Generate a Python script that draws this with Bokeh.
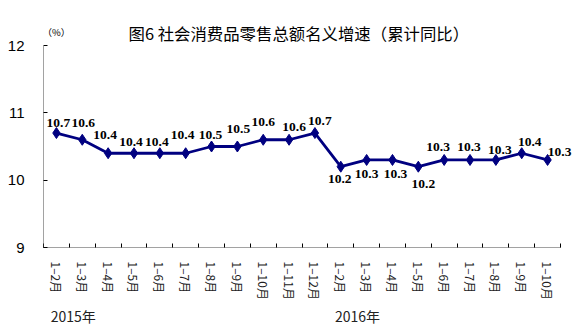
from bokeh.plotting import figure
from bokeh.models import FixedTicker, ColumnDataSource, LabelSet, Label, Range1d, LinearAxis
from bokeh.embed import file_html
from bokeh.resources import INLINE

periods = ["1–2月", "1–3月", "1–4月", "1–5月", "1–6月", "1–7月", "1–8月", "1–9月",
           "1–10月", "1–11月", "1–12月",
           "1–2月", "1–3月", "1–4月", "1–5月", "1–6月", "1–7月", "1–8月", "1–9月", "1–10月"]
values = [10.7, 10.6, 10.4, 10.4, 10.4, 10.4, 10.5, 10.5, 10.6, 10.6, 10.7,
          10.2, 10.3, 10.3, 10.2, 10.3, 10.3, 10.3, 10.4, 10.3]
years = ["2015年", "2016年"]
year_first_index = [0, 11]
y_ticks = [9, 10, 11, 12]
title_text = "图6 社会消费品零售总额名义增速（累计同比）"
unit_text = "（%）"

# label offsets (styling only), in pixels
label_dx = [2, 1, -3, -3, -3, -3, -1, 1, 0, 5, 5, -1, 0, 3, 5, -6, -1, 4, 8, 12]
label_dy = [10, 17, 18, 11, 11, 18, 12, 18, 18, 13, 12, -12, -14, -14, -17, 13, 13, 10, 11, 8]

n = len(values)
xs = list(range(n))
src = ColumnDataSource(dict(x=xs, y=values, lab=[f"{v:.1f}" for v in values],
                            dx=label_dx, dy=label_dy))

# plot frame spans up to the top/right edges so that texts are not clipped;
# the axes are limited with bounds to the value region
px_per_x = 517 / n
px_per_y = 202 / 3
x_end = -0.5 + 533 / px_per_x
y_end = 12 + 45 / px_per_y

p = figure(width=576, height=328, x_range=Range1d(-0.5, x_end),
           y_range=Range1d(9, y_end), output_backend="svg", toolbar_location=None,
           min_border_left=43, min_border_right=0, min_border_top=0,
           min_border_bottom=81, title=None)
p.outline_line_color = None
p.xgrid.grid_line_color = None
p.ygrid.grid_line_color = None
p.background_fill_color = "white"
p.border_fill_color = "white"

line_color = "#000080"
p.line("x", "y", source=src, line_color=line_color, line_width=2.8)
p.scatter("x", "y", source=src, marker="diamond", size=11, fill_color=line_color,
          line_color=line_color)

labels = LabelSet(x="x", y="y", text="lab", source=src, x_offset="dx", y_offset="dy",
                  text_align="center", text_baseline="middle",
                  text_font="Liberation Sans", text_font_size="13.5px",
                  text_font_style="bold", text_color="black")
p.add_layout(labels)

# x axis
xa = p.xaxis[0]
xa.bounds = (-0.5, n - 0.5)
xa.ticker = FixedTicker(ticks=xs, minor_ticks=[i - 0.5 for i in range(n + 1)])
xa.major_label_overrides = {i: periods[i] for i in xs}
xa.major_label_orientation = "vertical"
xa.major_tick_in = 0
xa.major_tick_out = 0
xa.minor_tick_in = 4
xa.minor_tick_out = 0
xa.minor_tick_line_color = "black"
xa.major_label_standoff = 14
xa.major_label_text_font = "Noto Sans CJK SC"
xa.major_label_text_font_size = "12px"
xa.major_label_text_color = "#222222"
xa.axis_line_color = "#444444"
xa.axis_line_dash = "1 1"

# year axis
year_pos = [i0 + 0.65 for i0 in year_first_index]
ya2 = LinearAxis(ticker=FixedTicker(ticks=year_pos, minor_ticks=[]),
                 major_label_overrides={pos: yr for pos, yr in zip(year_pos, years)},
                 axis_line_color=None, major_tick_line_color=None,
                 minor_tick_line_color=None, major_label_standoff=-3,
                 major_label_text_font="Noto Sans CJK SC",
                 major_label_text_font_size="14px", major_label_text_color="#222222")
p.add_layout(ya2, "below")

# y axis
ya = p.yaxis[0]
ya.bounds = (9, 12)
ya.ticker = FixedTicker(ticks=y_ticks, minor_ticks=[])
ya.major_tick_in = 4
ya.major_tick_out = 0
ya.major_tick_line_color = "black"
ya.major_label_standoff = 19
ya.major_label_text_font = "Liberation Sans"
ya.major_label_text_font_size = "15px"
ya.major_label_text_color = "black"
ya.axis_line_color = "#444444"
ya.axis_line_dash = "1 1"

p.add_layout(Label(x=85, y=215, x_units="screen", y_units="screen", text=title_text,
                   text_align="left", text_baseline="middle",
                   text_font="Noto Sans CJK SC", text_font_size="16.4px",
                   text_color="black"))
p.add_layout(Label(x=-1, y=216, x_units="screen", y_units="screen", text=unit_text,
                   text_align="left", text_baseline="middle",
                   text_font="Noto Sans CJK SC", text_font_size="9.5px",
                   text_color="black"))

open("out.html", "w").write(file_html(p, INLINE))
